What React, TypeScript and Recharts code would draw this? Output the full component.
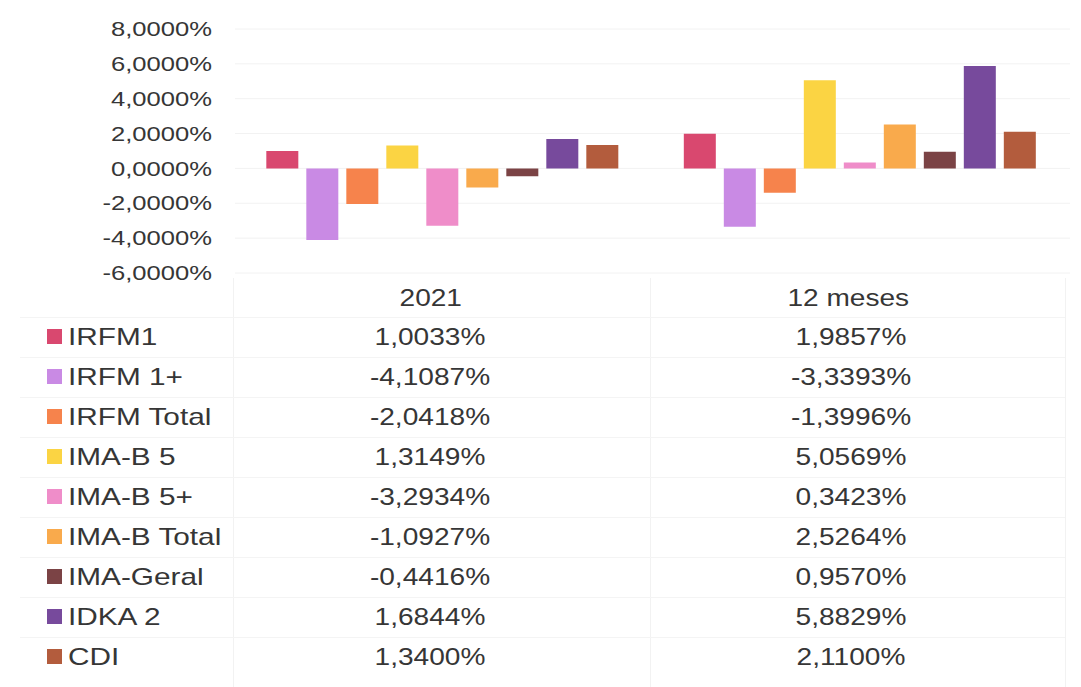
import { BarChart, Bar, XAxis, YAxis, CartesianGrid } from 'recharts';

const categories = ['2021', '12 meses'];
const seriesNames = ['IRFM1', 'IRFM 1+', 'IRFM Total', 'IMA-B 5', 'IMA-B 5+', 'IMA-B Total', 'IMA-Geral', 'IDKA 2', 'CDI'];
const seriesColors = ['#d9486f', '#c98ae4', '#f6834c', '#fbd443', '#ef8dc9', '#f9aa4c', '#7b4345', '#774a9c', '#b35c3d'];
const values2021 = [1.0033, -4.1087, -2.0418, 1.3149, -3.2934, -1.0927, -0.4416, 1.6844, 1.34];
const values12m = [1.9857, -3.3393, -1.3996, 5.0569, 0.3423, 2.5264, 0.957, 5.8829, 2.11];
const yTicks = [-6, -4, -2, 0, 2, 4, 6, 8];

const seriesValues = [values2021, values12m];

const data = categories.map((cat, c) => {
  const row: Record<string, string | number> = { category: cat };
  seriesNames.forEach((_, i) => {
    row['s' + i] = seriesValues[c][i];
  });
  return row;
});

const fmt = (v: number) => v.toFixed(4).replace('.', ',') + '%';

const FONT = '"Liberation Sans", Arial, sans-serif';
const TEXT = '#363636';

// table geometry (below the plot)
const ROW_TOP = 317;
const ROW_H = 40;
const COL_X = [430, 851];

const YTick = (props: any) => {
  const { x, y, payload } = props;
  return (
    <text
      transform={`translate(${x},${y}) scale(1.22,1)`}
      textAnchor="end"
      dominantBaseline="central"
      fontFamily={FONT}
      fontSize={21}
      fill={TEXT}
    >
      {fmt(payload.value)}
    </text>
  );
};

const XTick = (props: any) => {
  const { x, y, payload } = props;
  return (
    <text
      transform={`translate(${x - 13},${y + 25}) scale(1.17,1)`}
      textAnchor="middle"
      fontFamily={FONT}
      fontSize={24}
      fill={TEXT}
    >
      {payload.value}
    </text>
  );
};

export default function App() {
  return (
    <div style={{ position: 'absolute', left: 0, top: 0, width: 1081, height: 687, background: '#fff', overflow: 'hidden' }}>
      <BarChart
        width={1081}
        height={687}
        data={data}
        margin={{ top: 29, right: 11, left: 0, bottom: 374 }}
        barCategoryGap="7.5%"
        barGap={8}
      >
        <CartesianGrid vertical={false} stroke="#f2f2f2" />
        <XAxis
          dataKey="category"
          height={40}
          axisLine={false}
          tickLine={false}
          tick={<XTick />}
        />
        <YAxis
          width={235}
          domain={[-6, 8]}
          ticks={yTicks}
          interval={0}
          axisLine={false}
          tickLine={false}
          tickMargin={17}
          tick={<YTick />}
        />
        {seriesNames.map((name, i) => (
          <Bar key={name} dataKey={'s' + i} name={name} fill={seriesColors[i]} isAnimationActive={false} />
        ))}
      </BarChart>

      {/* data table under the plot */}
      <div style={{ position: 'absolute', left: 0, top: 0, width: 1081, height: 687, pointerEvents: 'none', fontFamily: FONT, color: TEXT }}>
        <div style={{ position: 'absolute', left: 233, top: 278, width: 1, height: 409, background: '#f2f2f2' }} />
        <div style={{ position: 'absolute', left: 650, top: 278, width: 1, height: 409, background: '#f2f2f2' }} />
        <div style={{ position: 'absolute', left: 1065, top: 278, width: 1, height: 409, background: '#f2f2f2' }} />
        {seriesNames.map((name, i) => (
          <div key={name}>
            <div style={{ position: 'absolute', left: 20, top: ROW_TOP + ROW_H * i, width: 1045, height: 1, background: '#f4f4f4' }} />
            <div
              style={{
                position: 'absolute',
                left: 47,
                top: ROW_TOP + ROW_H * i + 12,
                width: 15,
                height: 15,
                background: seriesColors[i],
              }}
            />
            <div
              style={{
                position: 'absolute',
                left: 68,
                top: ROW_TOP + ROW_H * i,
                height: ROW_H,
                lineHeight: ROW_H + 'px',
                fontSize: 24,
                whiteSpace: 'nowrap',
                transform: 'scaleX(1.24)',
                transformOrigin: 'left center',
              }}
            >
              {name}
            </div>
            {COL_X.map((cx, c) => (
              <div
                key={c}
                style={{
                  position: 'absolute',
                  left: cx - 100,
                  width: 200,
                  textAlign: 'center',
                  top: ROW_TOP + ROW_H * i,
                  height: ROW_H,
                  lineHeight: ROW_H + 'px',
                  fontSize: 24,
                  whiteSpace: 'nowrap',
                  transform: 'scaleX(1.17)',
                  transformOrigin: 'center center',
                }}
              >
                {fmt(seriesValues[c][i])}
              </div>
            ))}
          </div>
        ))}
      </div>
    </div>
  );
}
